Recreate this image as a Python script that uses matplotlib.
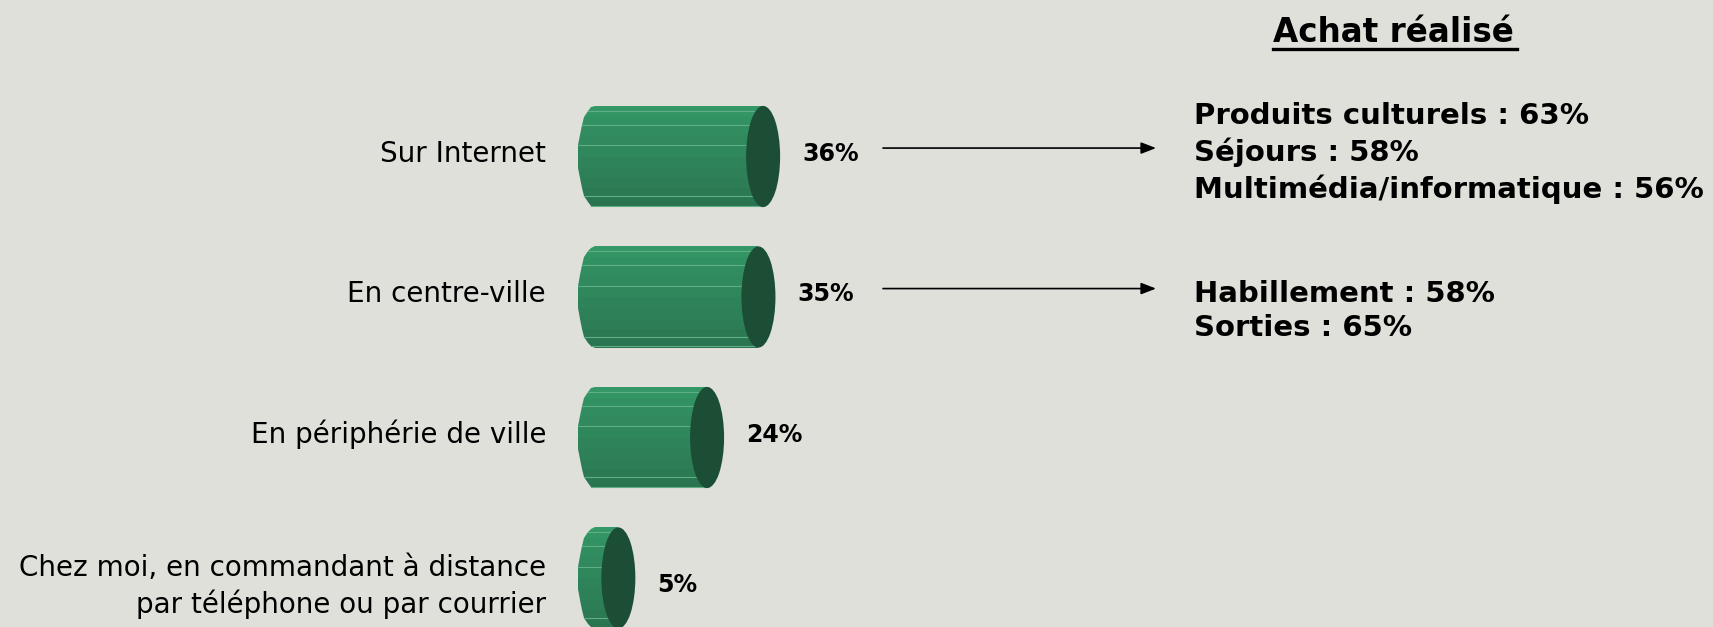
import numpy as np
import matplotlib
matplotlib.use("Agg")
from matplotlib import pyplot as plt
from matplotlib.patches import Ellipse, Polygon

# Lieux d'achat (part des répondants, en %)
categories = [
    "Sur Internet",
    "En centre-ville",
    "En périphérie de ville",
    "Chez moi, en commandant à distance\npar téléphone ou par courrier",
]
values = [36, 35, 24, 5]
value_labels = ["36%", "35%", "24%", "5%"]

# Achats réalisés, reliés aux deux premiers lieux
details_title = "Achat réalisé"
details_internet = ["Produits culturels : 63%", "Séjours : 58%",
                    "Multimédia/informatique : 56%"]
details_centre = ["Habillement : 58%", "Sorties : 65%"]

BG = "#dfe0da"
CAP = "#1c4e36"
STRIPE = "#5fae86"

W, H = 1713, 627
fig = plt.figure(figsize=(W / 100, H / 100), dpi=100, facecolor=BG)
ax = fig.add_axes([0, 0, 1, 1])
ax.set_facecolor(BG)
ax.axis("off")

# x in percent, y in category rank
px_per_pct = 4.67
x0_px = 595
row_px = 140.5
row0_px = 156.5
ax.set_xlim(-x0_px / px_per_pct, (W - x0_px) / px_per_pct)
ax.set_ylim((H - row0_px) / row_px, -row0_px / row_px)

half_h = 0.36                      # cylinder radius, rows
cap_w = 17 / px_per_pct            # ellipse half-width, pct units
n_facets = 14
theta = np.linspace(0, np.pi, n_facets + 1)
top_col = np.array([0x35, 0x9c, 0x69]) / 255
bot_col = np.array([0x29, 0x6e, 0x4d]) / 255

for i, v in enumerate(values):
    # faceted body, lighter on top
    for k in range(n_facets):
        t0, t1 = theta[k], theta[k + 1]
        ya, yb = i - half_h * np.cos(t0), i - half_h * np.cos(t1)
        xa, xb = -cap_w * np.sin(t0), -cap_w * np.sin(t1)
        f = (k + 0.5) / n_facets
        col = top_col * (1 - f) + bot_col * f
        ax.add_patch(Polygon([(xa, ya), (v, ya), (v, yb), (xb, yb)],
                             closed=True, facecolor=col, edgecolor="none",
                             zorder=2))
        if k in (1, 3, 5, 10, 12):
            ax.plot([xb, v], [yb, yb], color=STRIPE, lw=0.8, zorder=3)
    # end cap
    ax.add_patch(Ellipse((v, i), 2 * cap_w, 2 * half_h, facecolor=CAP,
                         edgecolor="none", zorder=4))
    ax.text(v + cap_w + 22 / px_per_pct, i - 0.02 + (0.07 if v < 10 else 0),
            value_labels[i], ha="left", va="center", fontsize=17,
            fontweight="bold", family="DejaVu Sans", zorder=5)
    ax.text((546 - x0_px) / px_per_pct, i + (0.06 if "\n" in categories[i] else -0.02),
            categories[i], ha="right", va="center", fontsize=20,
            family="DejaVu Sans", linespacing=1.33, zorder=5)

# arrows towards the detail blocks
for i in (0, 1):
    ax.annotate("", xy=((1156 - x0_px) / px_per_pct, i - 0.06),
                xytext=((883 - x0_px) / px_per_pct, i - 0.06),
                arrowprops=dict(arrowstyle="-|>,head_length=0.9,head_width=0.35",
                                color="black", lw=1.2, shrinkA=0, shrinkB=0))


def fx(p):
    return p / W


def fy(p):
    return 1 - p / H


fig.text(fx(1393), fy(33), details_title, ha="center", va="center",
         fontsize=23.5, fontweight="bold", family="DejaVu Sans")
fig.add_artist(plt.Line2D([fx(1273), fx(1517)], [fy(49), fy(49)],
                          color="black", lw=2.4))
fig.text(fx(1194), fy(153), "\n".join(details_internet), ha="left",
         va="center", fontsize=21, fontweight="bold", family="DejaVu Sans",
         linespacing=1.3)
fig.text(fx(1194), fy(311), "\n".join(details_centre), ha="left",
         va="center", fontsize=21, fontweight="bold", family="DejaVu Sans",
         linespacing=1.3)

fig.savefig("out.png", dpi=100, facecolor=BG)
